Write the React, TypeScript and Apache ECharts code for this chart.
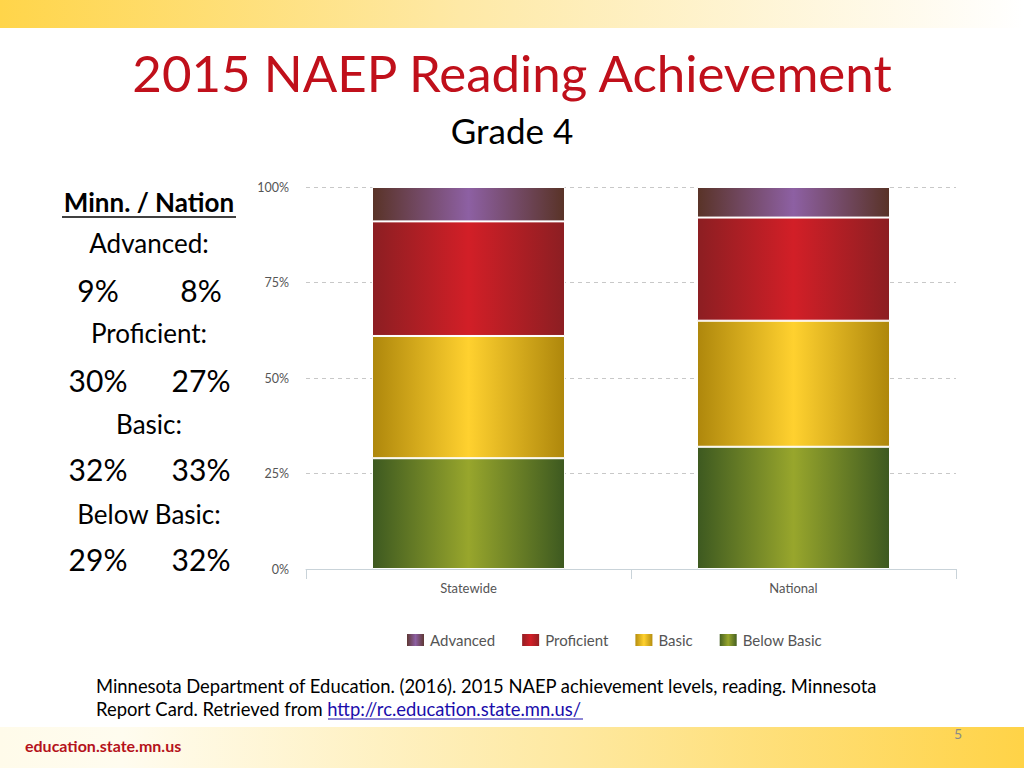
import React, { useEffect, useRef } from "react";
import * as echarts from "echarts";

const categories = ["Statewide", "National"];
const belowBasic = [29, 32];
const basic = [32, 33];
const proficient = [30, 27];
const advanced = [9, 8];
const yTicks = [0, 25, 50, 75, 100];

const FONT = "Lato, 'Open Sans', sans-serif";

function hGrad(edge: string, center: string) {
  return new echarts.graphic.LinearGradient(0, 0, 1, 0, [
    { offset: 0, color: edge },
    { offset: 0.5, color: center },
    { offset: 1, color: edge },
  ]);
}

export default function App() {
  const ref = useRef<HTMLDivElement>(null);
  useEffect(() => {
    if (!ref.current) return;
    const chart = echarts.init(ref.current, null, { renderer: "svg" });
    const colAdv = hGrad("#593327", "#8D60A3");
    const colPro = hGrad("#8C1E22", "#D21F27");
    const colBas = hGrad("#AE870C", "#FFD12F");
    const colBel = hGrad("#3D5920", "#98A62C");

    const leftX = 149;
    const pctL = 98;
    const pctR = 201;
    const txt = (x: number, y: number, s: string, size: number, extra: any = {}) => ({
      type: "text",
      x,
      y,
      style: {
        text: s,
        fontSize: size,
        fontFamily: FONT,
        fill: "#000",
        align: "center",
        verticalAlign: "middle",
        ...extra,
      },
    });

    const graphics: any[] = [
      {
        type: "rect",
        shape: { x: 0, y: 0, width: 1024, height: 28 },
        style: {
          fill: new echarts.graphic.LinearGradient(0, 0, 1, 0, [
            { offset: 0, color: "#FFD54A" },
            { offset: 0.45, color: "#FEE9A6" },
            { offset: 1, color: "#FFFFFF" },
          ]),
        },
      },
      {
        type: "rect",
        shape: { x: 0, y: 727, width: 1024, height: 41 },
        style: {
          fill: new echarts.graphic.LinearGradient(0, 0, 1, 0, [
            { offset: 0, color: "#FFFBEA" },
            { offset: 0.12, color: "#FFFCEF" },
            { offset: 0.55, color: "#FEE9A2" },
            { offset: 1, color: "#FFD347" },
          ]),
        },
      },
      txt(512, 72, "2015 NAEP Reading Achievement", 51, { fill: "#C0101B" }),
      txt(512, 130, "Grade 4", 35),
      txt(leftX, 202, "Minn. / Nation", 26, { fontWeight: "bold" }),
      {
        type: "line",
        shape: { x1: 62, y1: 217, x2: 236, y2: 217 },
        style: { stroke: "#000", lineWidth: 1.5 },
      },
      txt(leftX, 243, "Advanced:", 26),
      txt(pctL, 290, "9%", 30),
      txt(pctR, 290, "8%", 30),
      txt(leftX, 333, "Proficient:", 26),
      txt(pctL, 380, "30%", 30),
      txt(pctR, 380, "27%", 30),
      txt(leftX, 424, "Basic:", 26),
      txt(pctL, 469, "32%", 30),
      txt(pctR, 469, "33%", 30),
      txt(leftX, 514, "Below Basic:", 26),
      txt(pctL, 559, "29%", 30),
      txt(pctR, 559, "32%", 30),
      txt(96, 686, "Minnesota Department of Education. (2016). 2015 NAEP achievement levels, reading. Minnesota", 18.4, { align: "left" }),
      {
        type: "text",
        x: 96,
        y: 709,
        style: {
          text: "{a|Report Card. Retrieved from }{b|http://rc.education.state.mn.us/}",
          align: "left",
          verticalAlign: "middle",
          rich: {
            a: { fontSize: 18.4, fontFamily: FONT, fill: "#000", color: "#000" },
            b: { fontSize: 18.4, fontFamily: FONT, fill: "#1A0DAB", color: "#1A0DAB" },
          },
        },
      },
      {
        type: "line",
        shape: { x1: 328, y1: 719, x2: 583, y2: 719 },
        style: { stroke: "#1A0DAB", lineWidth: 1 },
      },
      txt(25, 745, "education.state.mn.us", 16, { align: "left", fill: "#B5121B", fontWeight: "bold" }),
      txt(958, 733, "5", 14, { fill: "#8A8A8A" }),
    ];

    chart.setOption({
      animation: false,
      textStyle: { fontFamily: FONT },
      grid: { left: 306, right: 68, top: 187, bottom: 199, containLabel: false },
      legend: {
        data: ["Advanced", "Proficient", "Basic", "Below Basic"],
        left: 400,
        top: 627,
        itemWidth: 19,
        itemHeight: 14,
        itemGap: 25,
        icon: "rect",
        textStyle: { fontSize: 15, color: "#555", fontFamily: FONT },
      },
      xAxis: {
        type: "category",
        data: categories,
        axisLine: { lineStyle: { color: "#C9D3D9", width: 1 } },
        axisTick: { show: true, length: 10, lineStyle: { color: "#C9D3D9" } },
        axisLabel: { color: "#555", fontSize: 13, margin: 12 },
      },
      yAxis: {
        type: "value",
        min: 0,
        max: 100,
        interval: 25,
        axisLabel: {
          color: "#555",
          fontSize: 12.5,
          margin: 17,
          formatter: (v: number) => (yTicks.includes(v) ? `${v}%` : ""),
        },
        splitLine: { lineStyle: { color: "#C8C8C8", type: [4, 4] } },
        axisLine: { show: false },
        axisTick: { show: false },
      },
      series: [
        { name: "Below Basic", type: "bar", stack: "t", data: belowBasic, barWidth: 193, itemStyle: { color: colBel, borderColor: "#fff", borderWidth: 1 } },
        { name: "Basic", type: "bar", stack: "t", data: basic, barWidth: 193, itemStyle: { color: colBas, borderColor: "#fff", borderWidth: 1 } },
        { name: "Proficient", type: "bar", stack: "t", data: proficient, barWidth: 193, itemStyle: { color: colPro, borderColor: "#fff", borderWidth: 1 } },
        { name: "Advanced", type: "bar", stack: "t", data: advanced, barWidth: 193, itemStyle: { color: colAdv, borderColor: "#fff", borderWidth: 1 } },
      ],
      graphic: graphics,
    });
    return () => chart.dispose();
  }, []);
  return (
    <div
      ref={ref}
      style={{ position: "fixed", left: 0, top: 0, width: 1024, height: 768, background: "#fff" }}
    />
  );
}
